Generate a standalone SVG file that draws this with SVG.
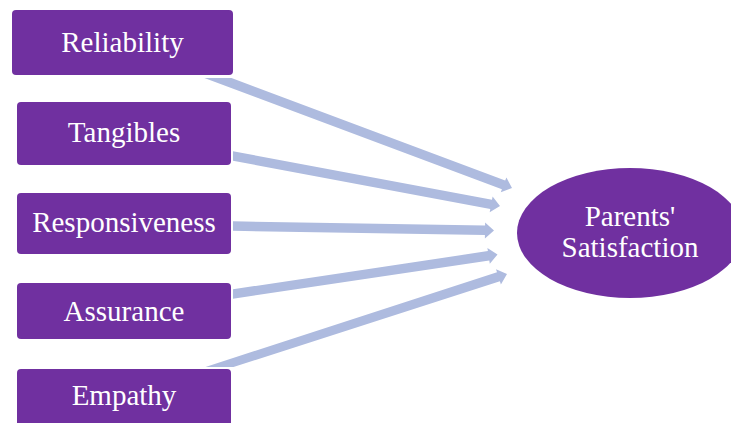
<svg xmlns="http://www.w3.org/2000/svg" width="731" height="423" viewBox="0 0 731 423">
  <style>
    .box { fill: #7030A0; }
    .lbl { fill: #FFFFFF; font-family: "Liberation Serif", "Times New Roman", serif; font-size: 29px; text-anchor: middle; }
    .arr { fill: #AEBBDF; }
  </style>
  <rect width="731" height="423" fill="#FFFFFF"/>
  <g id="connectors">
    <polygon class="arr" points="204.4,78 231.5,78 505.2,180.4 506.4,177.4 512,188 500.8,192.3 501.9,189.3"/>
    <polygon class="arr" points="233,151.3 492.0,199.7 492.6,196.5 500,206 489.7,212.2 490.3,209.0 233,160.7"/>
    <polygon class="arr" points="233,221.3 485.1,225.6 485.1,222.4 494,230.5 484.9,238.4 484.9,235.1 233,230.8"/>
    <polygon class="arr" points="233,289.3 487.9,251.1 487.4,247.9 497.5,254.5 489.8,263.7 489.3,260.5 233,298.7"/>
    <polygon class="arr" points="205.5,367 497.0,272.3 496.0,269.2 507,274 500.9,284.4 499.9,281.3 233.5,367"/>
  </g>
  <g id="reliability">
    <rect class="box" x="12" y="10" width="221" height="65" rx="4"/>
    <text class="lbl" x="122.5" y="52">Reliability</text>
  </g>
  <g id="tangibles">
    <rect class="box" x="17" y="102" width="214" height="63" rx="4"/>
    <text class="lbl" x="124" y="142">Tangibles</text>
  </g>
  <g id="responsiveness">
    <rect class="box" x="17" y="193" width="214" height="61" rx="4"/>
    <text class="lbl" x="124" y="232">Responsiveness</text>
  </g>
  <g id="assurance">
    <rect class="box" x="17" y="283" width="214" height="56" rx="4"/>
    <text class="lbl" x="124" y="321">Assurance</text>
  </g>
  <g id="empathy">
    <rect class="box" x="17" y="369" width="214" height="62" rx="4"/>
    <text class="lbl" x="124" y="405">Empathy</text>
  </g>
  <g id="parents-satisfaction">
    <ellipse class="box" cx="630" cy="233" rx="113" ry="65"/>
    <text class="lbl" x="630" y="226">Parents'</text>
    <text class="lbl" x="630" y="257">Satisfaction</text>
  </g>
</svg>
